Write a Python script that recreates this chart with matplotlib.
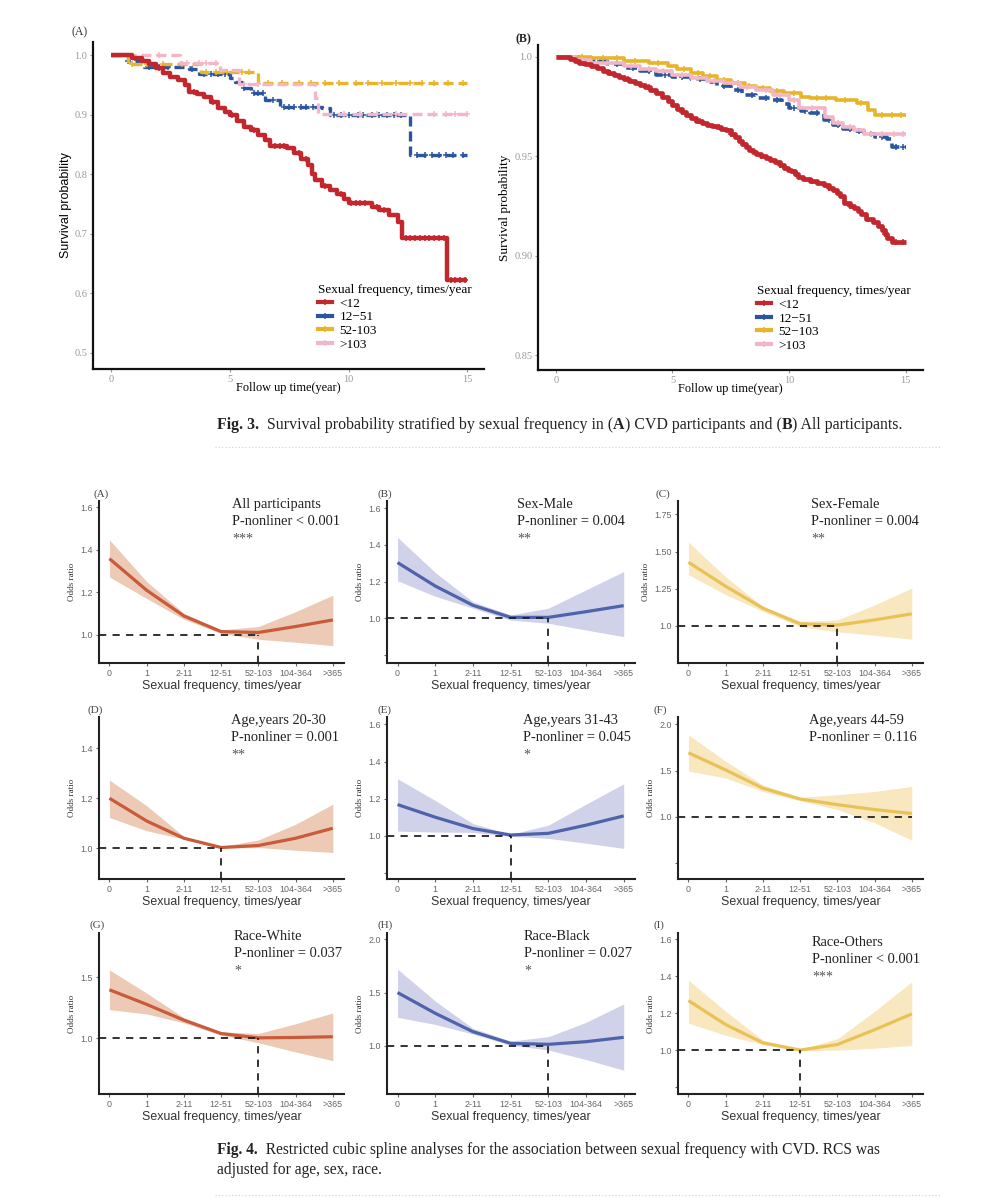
import numpy as np
import matplotlib
matplotlib.use("Agg")
import matplotlib.pyplot as plt
from matplotlib.lines import Line2D

SERIF = ["Liberation Serif", "DejaVu Serif"]
SANS = ["Liberation Sans", "DejaVu Sans"]

W, H = 1002, 1200
fig = plt.figure(figsize=(W / 100, H / 100), dpi=100)
fig.patch.set_facecolor("white")


def px_axes(left, top, right, bottom):
    return fig.add_axes([left / W, 1 - bottom / H, (right - left) / W, (bottom - top) / H])


def ftext(x, y, s, **kw):
    return fig.text(x / W, 1 - y / H, s, **kw)


def text_runs(x, y, runs, size):
    # caption written piece by piece so some words can be bold
    renderer = fig.canvas.get_renderer()
    for s, weight in runs:
        t = ftext(x, y, s, fontsize=size, family=SERIF, weight=weight, color="#222222", va="center")
        x = t.get_window_extent(renderer).x1


# ---------------- Fig. 3 data: Kaplan-Meier steps ----------------
km_labels_a = ["<12", "12\u221251", "52-103", ">103"]
km_labels_b = ["<12", "12\u221251", "52\u2212103", ">103"]
km_colors = ["#c1272d", "#2b55a3", "#e8b42a", "#f2b6c6"]

# (A) CVD participants
cvd_lt12_t = [0, 0.9, 1.3, 1.6, 1.9, 2.2, 2.5, 2.8, 3.1, 3.3, 3.6, 3.9, 4.2, 4.5, 4.8, 5.0, 5.3,
              5.6, 5.9, 6.2, 6.5, 6.7, 7.4, 7.7, 8.0, 8.3, 8.45, 8.6, 8.9, 9.2, 9.5, 9.8, 10.0,
              11.0, 11.3, 11.7, 12.1, 12.25, 14.15]
cvd_lt12_s = [1.0, 0.995, 0.99, 0.985, 0.978, 0.97, 0.963, 0.958, 0.95, 0.938, 0.935, 0.93, 0.921,
              0.912, 0.905, 0.9, 0.89, 0.88, 0.874, 0.866, 0.857, 0.847, 0.844, 0.835, 0.826, 0.815,
              0.8, 0.79, 0.78, 0.774, 0.766, 0.758, 0.752, 0.745, 0.74, 0.732, 0.72, 0.693, 0.623]
cvd_12_t = [0, 0.7, 1.4, 3.3, 3.7, 5.0, 5.2, 5.5, 5.9, 6.5, 7.1, 8.9, 9.2, 12.6]
cvd_12_s = [1.0, 0.99, 0.98, 0.976, 0.969, 0.962, 0.955, 0.944, 0.936, 0.925, 0.913, 0.911, 0.9, 0.832]
cvd_52_t = [0, 0.7, 3.8, 6.2]
cvd_52_s = [1.0, 0.985, 0.972, 0.9525]
cvd_103_t = [0, 2.9, 4.6, 5.4, 8.6, 8.7]
cvd_103_s = [1.0, 0.987, 0.975, 0.952, 0.928, 0.901]

cvd_cens = [
    [1.0, 2.0, 3.5, 4.3, 5.1, 6.0, 6.9, 7.1, 7.3, 7.9, 8.2, 9.0, 9.7, 10.1, 10.3, 10.5, 10.7, 11.2,
     11.5, 12.4, 12.6, 12.8, 13.0, 13.2, 13.4, 13.6, 13.8, 14.0, 14.3, 14.5, 14.7, 14.9],
    [0.7, 1.6, 2.0, 2.4, 3.4, 3.9, 4.2, 4.5, 4.8, 5.6, 6.0, 6.2, 6.4, 6.8, 7.3, 7.5, 7.7, 8.0, 8.2,
     8.5, 9.4, 9.7, 10.0, 10.4, 10.6, 11.0, 11.3, 11.6, 11.9, 12.2, 12.9, 13.2, 13.5, 13.8, 14.1, 14.4, 14.8],
    [0.9, 1.5, 2.2, 3.0, 4.0, 4.4, 4.9, 5.5, 5.8, 6.6, 7.2, 7.9, 8.4, 9.0, 9.6, 10.3, 10.8, 11.4,
     12.0, 12.6, 13.1, 13.6, 14.2, 14.8],
    [2.0, 3.2, 3.7, 4.0, 4.4, 5.6, 6.2, 9.8, 10.5, 11.2, 12.0, 13.6, 14.1, 14.5, 15.0],
]

# (B) All participants
all_lt12_t = [0, 0.6, 0.8, 1.0, 1.25, 1.5, 1.75, 2.0, 2.25, 2.5, 2.7, 2.9, 3.15, 3.4, 3.6, 3.8, 4.05,
              4.3, 4.55, 4.8, 5.0, 5.2, 5.4, 5.6, 5.8, 6.0, 6.25, 6.5, 6.7, 6.9, 7.1, 7.3, 7.5, 7.7,
              7.85, 8.0, 8.15, 8.3, 8.45, 8.6, 8.8, 9.0, 9.2, 9.4, 9.6, 9.8, 9.95, 10.1, 10.25, 10.4,
              10.6, 10.9, 11.2, 11.5, 11.7, 11.9, 12.05, 12.2, 12.35, 12.6, 12.8, 12.95, 13.1, 13.3,
              13.6, 13.8, 14.0, 14.1, 14.2, 14.4]
all_lt12_s = [1.0, 0.999, 0.998, 0.997, 0.9962, 0.9955, 0.9943, 0.993, 0.992, 0.991, 0.990, 0.989, 0.988,
              0.987, 0.986, 0.985, 0.9835, 0.982, 0.980, 0.978, 0.976, 0.974, 0.9725, 0.971, 0.9695,
              0.968, 0.967, 0.966, 0.9652, 0.9645, 0.9638, 0.963, 0.9612, 0.9595, 0.9578, 0.956,
              0.9545, 0.953, 0.952, 0.951, 0.950, 0.949, 0.948, 0.947, 0.9455, 0.944, 0.9432, 0.9425,
              0.941, 0.9395, 0.9385, 0.9375, 0.9365, 0.9355, 0.9342, 0.933, 0.9315, 0.93, 0.9265,
              0.9252, 0.924, 0.9225, 0.921, 0.9187, 0.917, 0.915, 0.9128, 0.911, 0.909, 0.9068]
all_12_t = [0, 0.7, 1.5, 2.2, 2.9, 3.6, 4.3, 5.0, 5.8, 6.5, 6.9, 7.5, 8.0, 8.6, 9.2, 9.7, 10.0, 10.5,
            10.9, 11.5, 11.9, 12.3, 12.8, 13.2, 13.7, 14.2, 14.4]
all_12_s = [1.0, 0.9995, 0.998, 0.9965, 0.9945, 0.993, 0.991, 0.99, 0.9889, 0.9872, 0.9852, 0.9835,
            0.9809, 0.9795, 0.9784, 0.9765, 0.9741, 0.9728, 0.9716, 0.9681, 0.966, 0.9639, 0.9625,
            0.9613, 0.9595, 0.9588, 0.9548]
all_52_t = [0, 0.8, 1.5, 2.9, 4.0, 4.8, 5.2, 5.8, 6.3, 6.9, 7.5, 8.1, 8.6, 9.2, 9.8, 10.5, 10.9, 12.0,
            12.9, 13.4, 13.7]
all_52_s = [1.0, 0.9999, 0.9997, 0.998, 0.9971, 0.9955, 0.9937, 0.992, 0.9903, 0.9885, 0.9869, 0.9855,
            0.9843, 0.983, 0.9818, 0.98, 0.9792, 0.9784, 0.9767, 0.9733, 0.9707]
all_103_t = [0, 0.8, 1.5, 2.9, 3.6, 4.3, 5.0, 5.8, 6.5, 7.2, 7.9, 8.6, 9.3, 10.0, 10.45, 11.55, 11.9,
             12.3, 12.8, 13.2]
all_103_s = [1.0, 0.9985, 0.9971, 0.9954, 0.994, 0.9928, 0.991, 0.9894, 0.988, 0.9869, 0.985, 0.9835,
             0.981, 0.9784, 0.9741, 0.9698, 0.967, 0.9647, 0.963, 0.9613]

all_cens = [
    [1.2, 2.3, 3.1, 4.0, 5.4, 6.2, 7.0, 7.5, 8.8, 9.6, 10.3, 11.0, 11.7, 12.6, 13.4, 14.1, 14.6, 14.9],
    [1.0, 1.9, 2.6, 3.3, 4.0, 4.7, 5.4, 6.2, 7.2, 7.8, 8.4, 9.0, 9.5, 10.2, 10.7, 11.2, 11.7, 12.1,
     12.6, 13.0, 13.5, 14.0, 14.6, 14.9],
    [1.1, 2.0, 2.6, 3.4, 4.4, 5.5, 6.1, 6.6, 7.2, 7.8, 8.3, 8.9, 9.5, 10.2, 11.2, 11.6, 12.4, 13.1,
     14.0, 14.4, 14.8],
    [1.1, 2.2, 3.2, 4.0, 4.6, 5.4, 6.1, 6.8, 7.6, 8.2, 9.0, 9.6, 10.2, 11.0, 12.1, 12.6, 13.5, 14.0,
     14.5, 14.9],
]

# ---------------- Fig. 4 data: restricted cubic splines ----------------
freq_labels = ["0", "1", "2-11", "12-51", "52-103", "104-364", ">365"]

or_all = [1.358, 1.209, 1.088, 1.014, 1.010, 1.038, 1.069]
lo_all = [1.272, 1.170, 1.072, 1.006, 0.978, 0.964, 0.948]
hi_all = [1.447, 1.250, 1.100, 1.022, 1.038, 1.108, 1.186]

or_male = [1.304, 1.176, 1.071, 1.005, 1.005, 1.036, 1.069]
lo_male = [1.205, 1.120, 1.055, 0.990, 0.973, 0.936, 0.900]
hi_male = [1.442, 1.250, 1.090, 1.018, 1.055, 1.155, 1.255]

or_female = [1.428, 1.266, 1.119, 1.014, 1.005, 1.040, 1.081]
lo_female = [1.345, 1.210, 1.097, 0.995, 0.960, 0.937, 0.910]
hi_female = [1.563, 1.330, 1.130, 1.030, 1.040, 1.140, 1.254]

or_age1 = [1.200, 1.109, 1.040, 1.003, 1.011, 1.040, 1.080]
lo_age1 = [1.123, 1.070, 1.037, 1.000, 1.003, 0.992, 0.983]
hi_age1 = [1.273, 1.170, 1.047, 1.007, 1.033, 1.096, 1.176]

or_age2 = [1.168, 1.100, 1.039, 1.004, 1.013, 1.057, 1.107]
lo_age2 = [1.025, 1.020, 1.018, 0.998, 0.986, 0.960, 0.932]
hi_age2 = [1.307, 1.190, 1.066, 1.008, 1.057, 1.170, 1.280]

or_age3 = [1.693, 1.507, 1.310, 1.193, 1.132, 1.079, 1.036]
lo_age3 = [1.496, 1.420, 1.275, 1.175, 1.079, 0.936, 0.746]
hi_age3 = [1.889, 1.600, 1.346, 1.210, 1.240, 1.275, 1.329]

or_white = [1.397, 1.278, 1.149, 1.040, 1.005, 1.008, 1.014]
lo_white = [1.235, 1.200, 1.127, 1.027, 0.965, 0.890, 0.819]
hi_white = [1.559, 1.370, 1.170, 1.054, 1.040, 1.120, 1.208]

or_black = [1.500, 1.305, 1.132, 1.022, 1.013, 1.038, 1.079]
lo_black = [1.267, 1.200, 1.110, 1.006, 0.960, 0.870, 0.770]
hi_black = [1.720, 1.420, 1.164, 1.044, 1.085, 1.220, 1.393]

or_other = [1.268, 1.138, 1.039, 1.000, 1.030, 1.110, 1.196]
lo_other = [1.146, 1.080, 1.030, 0.996, 1.000, 1.010, 1.025]
hi_other = [1.379, 1.210, 1.054, 1.004, 1.061, 1.210, 1.370]

panel_letters = ["(A)", "(B)", "(C)", "(D)", "(E)", "(F)", "(G)", "(H)", "(I)"]
panel_titles = ["All participants", "Sex-Male", "Sex-Female",
                "Age,years 20-30", "Age,years 31-43", "Age,years 44-59",
                "Race-White", "Race-Black", "Race-Others"]
panel_p = ["P-nonliner < 0.001", "P-nonliner = 0.004", "P-nonliner = 0.004",
           "P-nonliner = 0.001", "P-nonliner = 0.045", "P-nonliner = 0.116",
           "P-nonliner = 0.037", "P-nonliner = 0.027", "P-nonliner < 0.001"]
panel_stars = ["***", "**", "**", "**", "*", "", "*", "*", "***"]
panel_or = [or_all, or_male, or_female, or_age1, or_age2, or_age3, or_white, or_black, or_other]
panel_lo = [lo_all, lo_male, lo_female, lo_age1, lo_age2, lo_age3, lo_white, lo_black, lo_other]
panel_hi = [hi_all, hi_male, hi_female, hi_age1, hi_age2, hi_age3, hi_white, hi_black, hi_other]
ref_index = [4, 4, 4, 3, 3, None, 4, 4, 3]   # where the curve meets OR = 1

# ---------------- styling / layout ----------------
line_cols = ["#c95b3b", "#4f63ab", "#e9c257"]
band_cols = ["#eccab6", "#cfd2e9", "#f8e7bf"]
col_x = [(99, 344), (387, 635), (678, 923)]
row_y = [(501, 663), (717, 879), (933, 1094)]
ylims = [(0.866, 1.63), (0.756, 1.64), (0.75, 1.84),
         (0.877, 1.525), (0.767, 1.64), (0.328, 2.08),
         (0.547, 1.86), (0.546, 2.06), (0.762, 1.634)]
yticks = [[1.0, 1.2, 1.4, 1.6], [0.8, 1.0, 1.2, 1.4, 1.6], [1.0, 1.25, 1.5, 1.75],
          [1.0, 1.2, 1.4], [0.8, 1.0, 1.2, 1.4, 1.6], [0.5, 1.0, 1.5, 2.0],
          [1.0, 1.5], [1.0, 1.5, 2.0], [0.8, 1.0, 1.2, 1.4, 1.6]]
yticklabels = [["1.0", "1.2", "1.4", "1.6"], ["", "1.0", "1.2", "1.4", "1.6"],
               ["1.0", "1.25", "1.50", "1.75"], ["1.0", "1.2", "1.4"],
               ["", "1.0", "1.2", "1.4", "1.6"], ["", "1.0", "1.5", "2.0"],
               ["1.0", "1.5"], ["1.0", "1.5", "2.0"], ["", "1.0", "1.2", "1.4", "1.6"]]
text_xy = [(232, 498), (517, 498), (811, 498),
           (231, 714), (523, 714), (809, 714),
           (234, 930), (524, 930), (812, 936)]
letter_xy = [(93, 494), (377, 494), (655, 494),
             (88, 710), (377, 710), (654, 710),
             (90, 925), (377, 925), (654, 925)]


def km_panel(ax, times, survs, cens, labels, styles, xlim, ylim, yticks, ylabels, ylab_font, leg_anchor):
    for i in range(4):
        t = np.array(times[i] + [15.0])
        s = np.array(survs[i] + [survs[i][-1]])
        ax.step(t, s, where="post", color=km_colors[i], lw=styles[i][1], ls=styles[i][0],
                solid_capstyle="butt", dash_capstyle="butt", zorder=3 + (i == 0))
        c = np.array(cens[i])
        idx = np.searchsorted(np.array(times[i]), c, side="right") - 1
        ax.plot(c, np.array(survs[i])[idx], ls="none", marker="+", ms=5, mew=1.1,
                color=km_colors[i], zorder=3)
    ax.set_xlim(*xlim)
    ax.set_ylim(*ylim)
    ax.set_xticks([0, 5, 10, 15])
    ax.set_yticks(yticks)
    ax.set_yticklabels(ylabels)
    for sp in ["top", "right"]:
        ax.spines[sp].set_visible(False)
    for sp in ["left", "bottom"]:
        ax.spines[sp].set_linewidth(1.6)
        ax.spines[sp].set_color("#111111")
    ax.tick_params(length=2.5, width=0.8, colors="#999999", labelsize=7.5, pad=1.5)
    for lab in ax.get_xticklabels() + ax.get_yticklabels():
        lab.set_fontfamily(SERIF)
    ax.set_xlabel("Follow up time(year)", fontsize=8.8, family=SERIF, labelpad=-1)
    ax.set_ylabel("Survival probability", **ylab_font)
    handles = [Line2D([], [], color=km_colors[i], lw=3, ls="-", marker="+", ms=5, mew=1.1)
               for i in range(4)]
    leg = ax.legend(handles, labels, title="Sexual frequency, times/year", loc="lower right",
                    bbox_to_anchor=leg_anchor, frameon=False, handlelength=1.0, handletextpad=0.6,
                    labelspacing=0.1, alignment="left", prop={"family": SERIF, "size": 9.5})
    leg.get_title().set_fontfamily(SERIF)
    leg.get_title().set_fontsize(9.5)


# ---------------- Fig. 3 ----------------
axA = px_axes(93, 42, 484, 369)
km_panel(axA, [cvd_lt12_t, cvd_12_t, cvd_52_t, cvd_103_t],
         [cvd_lt12_s, cvd_12_s, cvd_52_s, cvd_103_s], cvd_cens, km_labels_a,
         [("-", 3.2), ((0, (3, 1.5)), 2.4), ((0, (3, 1.5)), 2.4), ((0, (3, 1.5)), 2.4)],
         (-0.76, 15.7), (0.473, 1.022), [0.5, 0.6, 0.7, 0.8, 0.9, 1.0],
         ["0.5", "0.6", "0.7", "0.8", "0.9", "1.0"],
         {"fontsize": 9, "family": SANS, "labelpad": 2}, (1.0, 0.02))
ftext(72, 32, "(A)", fontsize=8.5, family=SERIF, color="#333333", va="center")

axB = px_axes(538, 45, 923, 370)
km_panel(axB, [all_lt12_t, all_12_t, all_52_t, all_103_t],
         [all_lt12_s, all_12_s, all_52_s, all_103_s], all_cens, km_labels_b,
         [("-", 3.4), ((0, (3, 1.5)), 2.6), ("-", 2.6), ("-", 2.6)],
         (-0.77, 15.75), (0.8425, 1.006), [0.85, 0.90, 0.95, 1.0],
         ["0.85", "0.90", "0.95", "1.0"],
         {"fontsize": 9.5, "family": SERIF, "labelpad": 2}, (1.0, 0.02))
ftext(516, 39, "(B)", fontsize=8.5, family=SERIF, weight="bold", color="#222222", va="center")

text_runs(217, 425, [("Fig. 3.", "bold"), ("  Survival probability stratified by sexual frequency in (", "normal"),
                     ("A", "bold"), (") CVD participants and (", "normal"), ("B", "bold"),
                     (") All participants.", "normal")], 11.4)
fig.add_artist(Line2D([215 / W, 940 / W], [1 - 447 / H, 1 - 447 / H], color="#d0d0d0",
                      lw=0.8, ls=(0, (1, 2))))

# ---------------- Fig. 4 ----------------
xpos = np.arange(len(freq_labels))
for k in range(9):
    r, c = divmod(k, 3)
    ax = px_axes(col_x[c][0], row_y[r][0], col_x[c][1], row_y[r][1])
    lc, bc = line_cols[c], band_cols[c]
    ax.fill_between(xpos, panel_lo[k], panel_hi[k], color=bc, lw=0, zorder=1)
    ax.plot(xpos, panel_or[k], color=lc, lw=2.3, zorder=3, solid_capstyle="butt")
    ax.set_xlim(-0.28, 6.3)
    ax.set_ylim(*ylims[k])
    ri = ref_index[k]
    xend = xpos[ri] if ri is not None else xpos[-1]
    ax.plot([-0.28, xend], [1.0, 1.0], color="#222222", lw=1.3, ls=(0, (4, 3.5)), zorder=4)
    if ri is not None:
        ax.plot([xpos[ri], xpos[ri]], [ylims[k][0], 1.0], color="#222222", lw=1.3,
                ls=(0, (4, 3.5)), zorder=4)
    ax.set_xticks(xpos)
    ax.set_xticklabels(freq_labels)
    ax.set_yticks(yticks[k])
    ax.set_yticklabels(yticklabels[k])
    for sp in ["top", "right"]:
        ax.spines[sp].set_visible(False)
    for sp in ["left", "bottom"]:
        ax.spines[sp].set_linewidth(1.5)
        ax.spines[sp].set_color("#222222")
    ax.tick_params(length=2.5, width=0.8, colors="#666666", labelsize=6.4, pad=2)
    for lab in ax.get_xticklabels() + ax.get_yticklabels():
        lab.set_fontfamily(SANS)
    ax.set_xlabel("Sexual frequency, times/year", fontsize=8.9, family=SANS, color="#333333",
                  labelpad=1.5)
    ax.set_ylabel("Odds ratio", fontsize=6.5, family=SERIF, color="#333333", labelpad=3)

    tx, ty = text_xy[k]
    ftext(tx, ty, panel_titles[k], fontsize=10.4, family=SERIF, color="#222222", va="top")
    ftext(tx, ty + 17, panel_p[k], fontsize=10.4, family=SERIF, color="#222222", va="top")
    if panel_stars[k]:
        ftext(tx, ty + 41, panel_stars[k], fontsize=10, family=SERIF, color="#555555", va="center")
    lx, ly = letter_xy[k]
    ftext(lx, ly, panel_letters[k], fontsize=8, family=SERIF, color="#444444", va="center")

text_runs(217, 1150, [("Fig. 4.", "bold"), ("  Restricted cubic spline analyses for the association between "
                                             "sexual frequency with CVD. RCS was", "normal")], 11.2)
ftext(217, 1170, "adjusted for age, sex, race.", fontsize=11.2, family=SERIF, color="#222222",
      va="center")
fig.add_artist(Line2D([215 / W, 940 / W], [1 - 1195 / H, 1 - 1195 / H], color="#d0d0d0",
                      lw=0.8, ls=(0, (1, 2))))

fig.savefig("out.png", dpi=100, facecolor="white")
